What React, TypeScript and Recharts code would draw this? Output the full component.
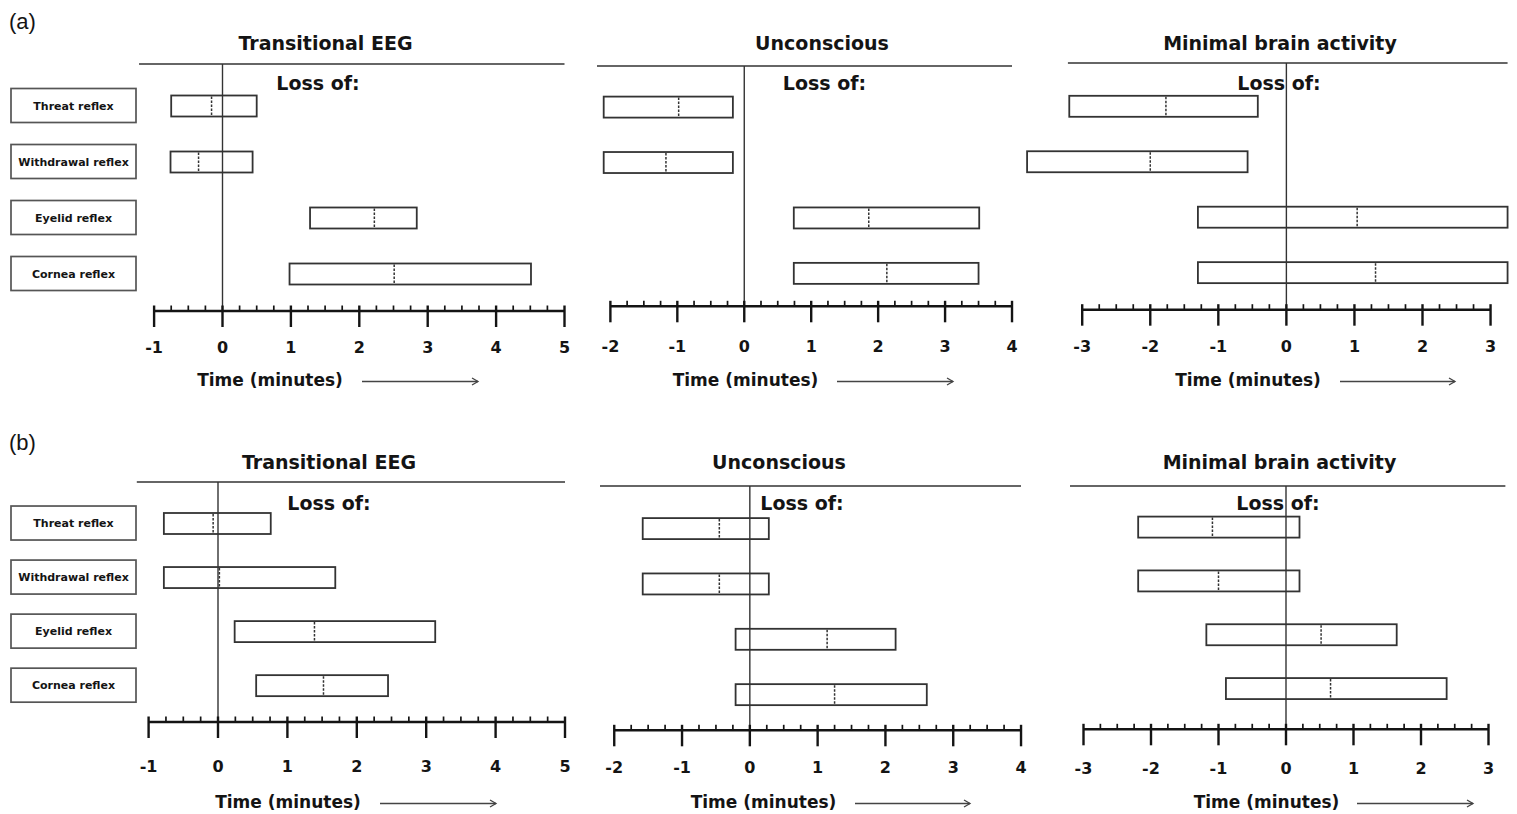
import React from 'react';
import { ComposedChart, Bar, XAxis, YAxis, ReferenceLine } from 'recharts';

// ---- data ----
const REFLEXES = ['Threat reflex', 'Withdrawal reflex', 'Eyelid reflex', 'Cornea reflex'];
const STAGES = ['Transitional EEG', 'Unconscious', 'Minimal brain activity'];

const TICKS_EEG = [-1, 0, 1, 2, 3, 4, 5];
const TICKS_UNCONSCIOUS = [-2, -1, 0, 1, 2, 3, 4];
const TICKS_MINIMAL = [-3, -2, -1, 0, 1, 2, 3];

// (a) loss of reflex relative to stage onset (minutes): low / median / high
const A_EEG_LOW = [-0.75, -0.76, 1.28, 0.98];
const A_EEG_MEDIAN = [-0.16, -0.35, 2.22, 2.51];
const A_EEG_HIGH = [0.5, 0.44, 2.84, 4.51];

const A_UNC_LOW = [-2.1, -2.1, 0.74, 0.74];
const A_UNC_MEDIAN = [-0.98, -1.17, 1.86, 2.13];
const A_UNC_HIGH = [-0.17, -0.17, 3.51, 3.5];

const A_MIN_LOW = [-3.19, -3.81, -1.3, -1.3];
const A_MIN_MEDIAN = [-1.77, -2.0, 1.04, 1.31];
const A_MIN_HIGH = [-0.42, -0.57, 3.25, 3.25];

// (b)
const B_EEG_LOW = [-0.78, -0.78, 0.24, 0.55];
const B_EEG_MEDIAN = [-0.07, 0.02, 1.39, 1.52];
const B_EEG_HIGH = [0.76, 1.69, 3.13, 2.45];

const B_UNC_LOW = [-1.58, -1.58, -0.21, -0.21];
const B_UNC_MEDIAN = [-0.45, -0.45, 1.14, 1.25];
const B_UNC_HIGH = [0.28, 0.28, 2.15, 2.61];

const B_MIN_LOW = [-2.19, -2.19, -1.18, -0.89];
const B_MIN_MEDIAN = [-1.09, -1.0, 0.52, 0.66];
const B_MIN_HIGH = [0.2, 0.2, 1.64, 2.38];

// ---- styling / layout ----
const FONT = '"DejaVu Sans", Verdana, sans-serif';
const INK = '#141414';
const LINE = '#333';

// in a vertical layout the extra y axis is indexed by row: 0 = top edge, n-1 = bottom edge
const FRAME_TOP = 0;
const FRAME_BOTTOM = REFLEXES.length - 1;

type PanelDef = {
  title: string;
  ticks: number[];
  low: number[];
  median: number[];
  high: number[];
  withLabels: boolean;
  zero: number; // px of 0 minutes
  unit: number; // px per minute
  top: number;
  bottom: number;
  padTop: number;
  padBottom: number;
  rule: [number, number];
  labelY: number;
  titleX: number;
  titleY: number;
  lossX: number;
  lossY: number;
  timeX: number;
  timeY: number;
  arrow: [number, number];
};

const PANELS: PanelDef[] = [
  { title: STAGES[0], ticks: TICKS_EEG, low: A_EEG_LOW, median: A_EEG_MEDIAN, high: A_EEG_HIGH, withLabels: true,
    zero: 222.5, unit: 68.4, top: 63.5, bottom: 310.5, padTop: 13.5, padBottom: 9.5, rule: [-1.22, 5],
    labelY: 346.7, titleX: 325.5, titleY: 43, lossX: 318, lossY: 83, timeX: 270, timeY: 380, arrow: [362, 478] },
  { title: STAGES[1], ticks: TICKS_UNCONSCIOUS, low: A_UNC_LOW, median: A_UNC_MEDIAN, high: A_UNC_HIGH, withLabels: false,
    zero: 744.6, unit: 66.94, top: 65.7, bottom: 306, padTop: 13.6, padBottom: 5, rule: [-2.2, 4],
    labelY: 346.7, titleX: 822, titleY: 43, lossX: 824.5, lossY: 83, timeX: 745.5, timeY: 380, arrow: [837, 953] },
  { title: STAGES[2], ticks: TICKS_MINIMAL, low: A_MIN_LOW, median: A_MIN_MEDIAN, high: A_MIN_HIGH, withLabels: false,
    zero: 1286.8, unit: 68.06, top: 63.3, bottom: 310, padTop: 15.8, padBottom: 9.1, rule: [-3.21, 3.25],
    labelY: 346.7, titleX: 1280, titleY: 43, lossX: 1279, lossY: 83, timeX: 1248, timeY: 380, arrow: [1340, 1455] },
  { title: STAGES[0], ticks: TICKS_EEG, low: B_EEG_LOW, median: B_EEG_MEDIAN, high: B_EEG_HIGH, withLabels: true,
    zero: 218, unit: 69.4, top: 482.3, bottom: 722.3, padTop: 14, padBottom: 9.8, rule: [-1.17, 5],
    labelY: 767, titleX: 329, titleY: 462, lossX: 329, lossY: 503, timeX: 288, timeY: 802, arrow: [380, 496] },
  { title: STAGES[1], ticks: TICKS_UNCONSCIOUS, low: B_UNC_LOW, median: B_UNC_MEDIAN, high: B_UNC_HIGH, withLabels: false,
    zero: 750, unit: 67.8, top: 485.7, bottom: 730, padTop: 15.1, padBottom: 7.8, rule: [-2.21, 4],
    labelY: 767, titleX: 779, titleY: 462, lossX: 802, lossY: 503, timeX: 763.5, timeY: 802, arrow: [855, 970] },
  { title: STAGES[2], ticks: TICKS_MINIMAL, low: B_MIN_LOW, median: B_MIN_MEDIAN, high: B_MIN_HIGH, withLabels: false,
    zero: 1285.8, unit: 67.5, top: 485.7, bottom: 729, padTop: 14.6, padBottom: 13.4, rule: [-3.2, 3.25],
    labelY: 768, titleX: 1279.5, titleY: 462, lossX: 1278, lossY: 503, timeX: 1266.5, timeY: 802, arrow: [1357, 1473] },
];

function buildRows(low: number[], median: number[], high: number[]) {
  return REFLEXES.map((name, i) => ({
    name,
    range: [low[i], high[i]],
    low: low[i],
    median: median[i],
    high: high[i],
  }));
}

// major ticks every minute, minor ticks every quarter
function quarterTicks(major: number[]) {
  const out: number[] = [];
  for (let i = 0; i < major.length - 1; i++) {
    for (let q = 0; q < 4; q++) out.push(major[i] + q * 0.25);
  }
  out.push(major[major.length - 1]);
  return out;
}

const BoxShape = (props: any) => {
  const { x, y, width, height, payload } = props;
  const span = payload.high - payload.low;
  const mx = x + ((payload.median - payload.low) / span) * width;
  return (
    <g>
      <rect x={x} y={y} width={width} height={height} fill="none" stroke={LINE} strokeWidth={1.8} />
      <line x1={mx} x2={mx} y1={y + 1} y2={y + height - 1} stroke="#333" strokeWidth={1.5} strokeDasharray="2.5 1.5" />
    </g>
  );
};

const LabelTick = (props: any) => {
  const { y, payload } = props;
  return (
    <g>
      <rect x={11} y={y - 17} width={125} height={34} fill="#fff" stroke="#555" strokeWidth={1.7} />
      <text x={73.5} y={y} dy={4} textAnchor="middle" fontSize={11} fontWeight="bold" fontFamily={FONT} fill={INK}>
        {payload.value}
      </text>
    </g>
  );
};

const AxisTick = (props: any) => {
  const { x, y, payload, labelOffset } = props;
  const v = payload.value;
  const major = Math.abs(v - Math.round(v)) < 1e-6;
  return (
    <g>
      {major ? (
        <line x1={x} x2={x} y1={y - 5.5} y2={y + 16} stroke={INK} strokeWidth={2.4} />
      ) : (
        <line x1={x} x2={x} y1={y - 5.5} y2={y} stroke={INK} strokeWidth={1.7} />
      )}
      {major && (
        <text x={x} y={y + labelOffset} dominantBaseline="central" textAnchor="middle" fontSize={16} fontWeight="bold" fontFamily={FONT} fill={INK}>
          {Math.round(v)}
        </text>
      )}
    </g>
  );
};

function Panel({ p }: { p: PanelDef }) {
  const rows = buildRows(p.low, p.median, p.high);
  const dMin = Math.min(p.rule[0], Math.min(...p.low) - 0.06);
  const dMax = Math.max(p.rule[1], Math.max(...p.high) + 0.06);
  const plotLeft = p.zero + dMin * p.unit;
  const plotWidth = (dMax - dMin) * p.unit;
  const yAxisW = p.withLabels ? plotLeft : 0;
  const chartLeft = p.withLabels ? 0 : plotLeft;
  const MT = 6;
  const AXIS_H = 62;
  const MR = 8;
  const width = yAxisW + plotWidth + MR;
  const height = MT + (p.bottom - p.top) + AXIS_H;
  const labelOffset = p.labelY - p.bottom;
  const tMin = p.ticks[0];
  const tMax = p.ticks[p.ticks.length - 1];

  return (
    <div style={{ position: 'absolute', left: chartLeft, top: p.top - MT }}>
      <ComposedChart
        width={width}
        height={height}
        layout="vertical"
        data={rows}
        margin={{ top: MT, right: MR, bottom: 0, left: 0 }}
      >
        <XAxis
          type="number"
          domain={[dMin, dMax]}
          allowDataOverflow
          ticks={quarterTicks(p.ticks)}
          interval={0}
          axisLine={false}
          tickLine={false}
          tickSize={0}
          tickMargin={0}
          height={AXIS_H}
          tick={(tp: any) => <AxisTick {...tp} labelOffset={labelOffset} />}
        />
        <YAxis
          yAxisId="cat"
          type="category"
          dataKey="name"
          width={yAxisW}
          hide={!p.withLabels}
          axisLine={false}
          tickLine={false}
          tickSize={0}
          tickMargin={0}
          interval={0}
          padding={{ top: p.padTop, bottom: p.padBottom }}
          tick={LabelTick}
        />
        <YAxis yAxisId="frame" type="number" hide />
        <Bar yAxisId="cat" dataKey="range" barSize={21} shape={BoxShape} isAnimationActive={false} />
        <ReferenceLine
          yAxisId="frame"
          segment={[{ x: p.rule[0], y: FRAME_TOP }, { x: p.rule[1], y: FRAME_TOP }]}
          stroke={LINE}
          strokeWidth={1.6}
        />
        <ReferenceLine
          yAxisId="frame"
          segment={[{ x: tMin, y: FRAME_BOTTOM }, { x: tMax, y: FRAME_BOTTOM }]}
          stroke={INK}
          strokeWidth={2.5}
        />
        <ReferenceLine yAxisId="frame" x={0} stroke={LINE} strokeWidth={1.4} />
      </ComposedChart>
    </div>
  );
}

export default function App() {
  return (
    <div style={{ position: 'absolute', left: 0, top: 0, width: 1517, height: 814, background: '#fff', overflow: 'hidden' }}>
      {PANELS.map((p, i) => (
        <Panel key={i} p={p} />
      ))}
      <svg width={1517} height={814} style={{ position: 'absolute', left: 0, top: 0, pointerEvents: 'none' }}>
        <text x={9} y={21} dominantBaseline="central" fontSize={22} fontFamily='"Liberation Sans", Arial, sans-serif' fill={INK}>(a)</text>
        <text x={9} y={442} dominantBaseline="central" fontSize={22} fontFamily='"Liberation Sans", Arial, sans-serif' fill={INK}>(b)</text>
        {PANELS.map((p, i) => (
          <g key={i}>
            <text x={p.titleX} y={p.titleY} textAnchor="middle" dominantBaseline="central" fontSize={19} fontWeight="bold" fontFamily={FONT} fill={INK}>
              {p.title}
            </text>
            <text x={p.lossX} y={p.lossY} textAnchor="middle" dominantBaseline="central" fontSize={19} fontWeight="bold" fontFamily={FONT} fill={INK}>
              Loss of:
            </text>
            <text x={p.timeX} y={p.timeY} textAnchor="middle" dominantBaseline="central" fontSize={17} fontWeight="bold" fontFamily={FONT} fill={INK}>
              Time (minutes)
            </text>
            <line x1={p.arrow[0]} x2={p.arrow[1]} y1={p.timeY + 1.5} y2={p.timeY + 1.5} stroke="#444" strokeWidth={1.5} />
            <polyline
              points={`${p.arrow[1] - 6},${p.timeY - 2} ${p.arrow[1]},${p.timeY + 1.5} ${p.arrow[1] - 6},${p.timeY + 5}`}
              fill="none"
              stroke="#444"
              strokeWidth={1.3}
            />
          </g>
        ))}
      </svg>
    </div>
  );
}
